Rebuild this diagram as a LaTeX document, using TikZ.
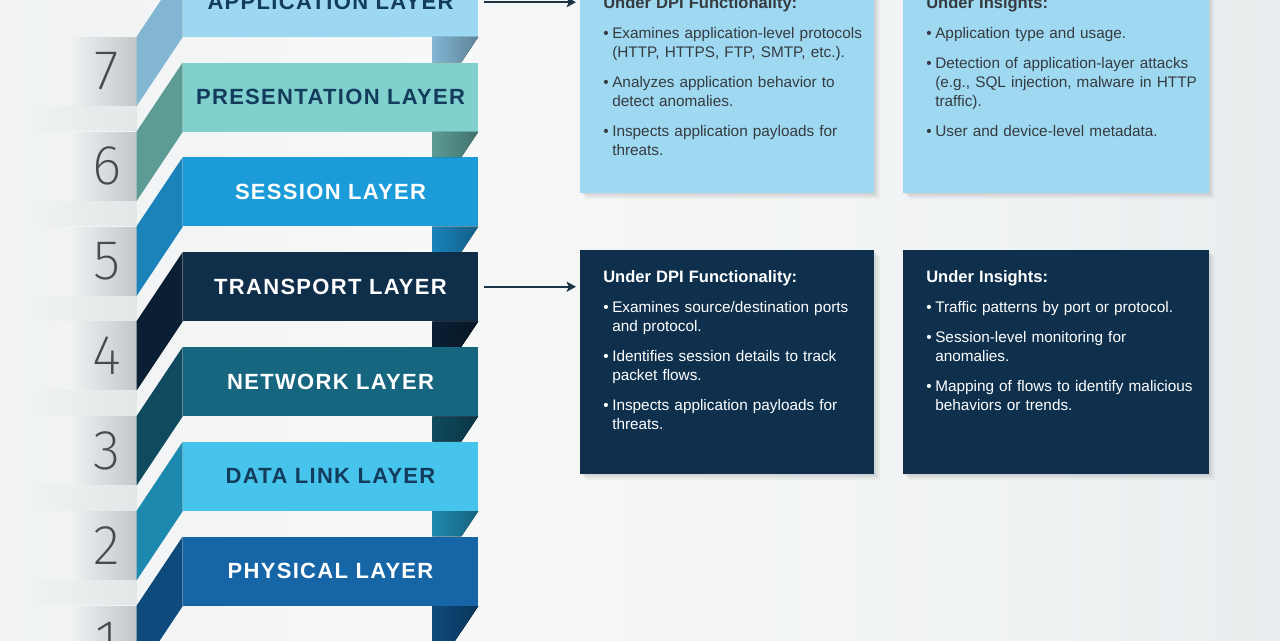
\documentclass[tikz,border=0pt]{standalone}
\usepackage{fontspec}
\setmainfont{Liberation Sans}
\IfFontExistsTF{Fira Sans ExtraLight}{\newfontfamily\numfont{Fira Sans ExtraLight}}{%
  \IfFontExistsTF{Lato Light}{\newfontfamily\numfont{Lato Light}}{%
    \IfFontExistsTF{DejaVu Sans ExtraLight}{\newfontfamily\numfont{DejaVu Sans ExtraLight}}{%
      \newcommand{\numfont}{\sffamily}}}}
\usetikzlibrary{arrows.meta,positioning,calc,shadows,fadings}

% page backdrop
\definecolor{bgA}{HTML}{D3D9DC}
\definecolor{bgB}{HTML}{DDE2E4}
\definecolor{bgC}{HTML}{ECEFF0}
\definecolor{bgD}{HTML}{F7F8F8}
\definecolor{bgE}{HTML}{EFF2F3}
\definecolor{bgF}{HTML}{E2E7E9}
\definecolor{bgG}{HTML}{D1D8DB}
\pgfdeclarehorizontalshading{backdrop}{100bp}{color(0bp)=(bgA); color(8bp)=(bgB);
  color(16bp)=(bgC); color(42bp)=(bgD); color(66bp)=(bgE); color(86bp)=(bgF); color(100bp)=(bgG)}
\tikzfading[name=fadein, left color=transparent!100, right color=transparent!0]

% layer colours
\definecolor{appfront}{HTML}{9CD8F1}   \definecolor{appside}{HTML}{82B6D2}
\definecolor{presfront}{HTML}{80D0CD}  \definecolor{presside}{HTML}{5C9C95}
\definecolor{sessfront}{HTML}{1B9CD8}  \definecolor{sessside}{HTML}{1983BA}
\definecolor{transfront}{HTML}{0F2E4A} \definecolor{transside}{HTML}{0A1F33}
\definecolor{netfront}{HTML}{17667F}   \definecolor{netside}{HTML}{0F4A5E}
\definecolor{dlfront}{HTML}{47C4EC}    \definecolor{dlside}{HTML}{1E89AE}
\definecolor{physfront}{HTML}{1666A7}  \definecolor{physside}{HTML}{0E4A7B}
\definecolor{darklabel}{HTML}{133B5C}
\definecolor{numgray}{HTML}{474B4F}
\definecolor{blockR}{HTML}{C2C7CA}
\definecolor{shelf}{HTML}{E3E7E8}

% info boxes
\definecolor{topbox}{HTML}{9ED8F1}
\definecolor{lowbox}{HTML}{0E304D}
\definecolor{toptext}{HTML}{363B40}
\definecolor{arrowc}{HTML}{1D3446}

\newcommand{\boxhead}[1]{\noindent{\fontsize{12.4}{14.25}\selectfont\bfseries #1}\par}
\newcommand{\dpiitem}[1]{\hangindent=6.75pt\hangafter=1\noindent
  \makebox[6.75pt][l]{\textbullet}#1\par}

\begin{document}
\begin{tikzpicture}[
  x=0.75pt, y=-0.75pt,
  layer/.style={minimum width=221.25pt, minimum height=51.75pt, inner sep=0pt,
                font=\fontsize{16.5}{18}\selectfont\bfseries\addfontfeatures{LetterSpace=6}},
  digit/.style={font=\fontsize{42}{42}\selectfont\numfont, text=numgray, inner sep=0pt},
  infobox/.style={inner sep=0pt, anchor=north west,
                  drop shadow={shadow xshift=1.5pt, shadow yshift=-1.5pt, opacity=.12},
                  drop shadow={shadow xshift=3pt, shadow yshift=-3pt, opacity=.10},
                  drop shadow={shadow xshift=4.5pt, shadow yshift=-4.5pt, opacity=.07}},
  boxtxt/.style={anchor=north west, inner sep=0pt, text width=208pt, align=left,
                 font=\fontsize{11.5}{14.25}\selectfont,
                 execute at begin node={\setlength{\parskip}{8.25pt}\setlength{\parindent}{0pt}}},
  arr/.style={-{Stealth[length=7pt, width=7.5pt, inset=1.5pt]}, line width=1.5pt, draw=arrowc,
              shorten <=4.5pt, shorten >=3pt}
]
\useasboundingbox (0,0) rectangle (1280,640);
\fill[shading=backdrop] (0,0) rectangle (1280,640);

% ---------- OSI stack ----------
\node[layer, fill=appfront, text=darklabel] (app) at (330.5,2.2) {APPLICATION LAYER};
\node[layer, fill=presfront, text=darklabel, below=18.98pt of app] (pres) {PRESENTATION LAYER};
\node[layer, fill=sessfront, text=white, below=18.98pt of pres] (sess) {SESSION LAYER};
\node[layer, fill=transfront, text=white, below=18.98pt of sess] (trans) {TRANSPORT LAYER};
\node[layer, fill=netfront, text=white, below=18.98pt of trans] (net) {NETWORK LAYER};
\node[layer, fill=dlfront, text=darklabel, below=18.98pt of net] (dlink) {DATA LINK LAYER};
\node[layer, fill=physfront, text=white, below=18.98pt of dlink] (phys) {PHYSICAL LAYER};

% side faces, back strips and number blocks
\foreach \n/\c in {app/appside, pres/presside, sess/sessside, trans/transside,
                   net/netside, dlink/dlside, phys/physside} {
  \fill[blockR, path fading=fadein]
    ($(\n.south west)+(-113,0)$) rectangle ($(\n.south west)+(-46,69)$);
  \fill[shelf, path fading=fadein]
    ($(\n.south west)+(-153,69)$) rectangle ($(\n.south west)+(-46,94.3)$);
  \fill[left color=\c, right color=\c!72!black]
    ($(\n.south east)+(-46,0)$) -- (\n.south east) -- ($(\n.south east)+(-16.9,25.3)$)
    -- ($(\n.south east)+(-46,25.3)$) -- cycle;
  \fill[\c] (\n.north west) -- (\n.south west) -- ($(\n.south west)+(-46,69)$)
    -- ($(\n.north west)+(-46,69)$) -- cycle;
}
\fill[left color=physside, right color=physside!72!black]
  ($(phys.south east)+(-46,0)$) -- (phys.south east) -- ($(phys.south east)+(-46,69)$) -- cycle;

\node[digit] (d7) at ($(app.south west)+(-76,34.5)$) {7};
\node[digit] (d6) at ($(pres.south west)+(-76,34.5)$) {6};
\node[digit] (d5) at ($(sess.south west)+(-76,34.5)$) {5};
\node[digit] (d4) at ($(trans.south west)+(-76,34.5)$) {4};
\node[digit] (d3) at ($(net.south west)+(-76,34.5)$) {3};
\node[digit] (d2) at ($(dlink.south west)+(-76,34.5)$) {2};
\node[digit] (d1) at ($(phys.south west)+(-76,34.5)$) {1};

% ---------- detail boxes ----------
\node[infobox, fill=topbox, minimum width=220.5pt, minimum height=162.75pt] (dpiTop) at (580,-24) {};
\node[infobox, fill=topbox, minimum width=229.5pt, minimum height=162.75pt] (insTop) at (903,-24) {};
\node[infobox, fill=lowbox, minimum width=220.5pt, minimum height=168pt] (dpiLow) at (580,250) {};
\node[infobox, fill=lowbox, minimum width=229.5pt, minimum height=168pt] (insLow) at (903,250) {};

\node[boxtxt, text=toptext] (dpiTopTxt) at ($(dpiTop.north west)+(23,20)$) {%
  \boxhead{Under DPI Functionality:}
  \dpiitem{Examines application-level protocols\newline (HTTP, HTTPS, FTP, SMTP, etc.).}
  \dpiitem{Analyzes application behavior to\newline detect anomalies.}
  \dpiitem{Inspects application payloads for\newline threats.}};
\node[boxtxt, text=toptext] (insTopTxt) at ($(insTop.north west)+(23,20)$) {%
  \boxhead{Under Insights:}
  \dpiitem{Application type and usage.}
  \dpiitem{Detection of application-layer attacks\newline (e.g., SQL injection, malware in HTTP\newline traffic).}
  \dpiitem{User and device-level metadata.}};
\node[boxtxt, text=white] (dpiLowTxt) at ($(dpiLow.north west)+(23,20)$) {%
  \boxhead{Under DPI Functionality:}
  \dpiitem{Examines source/destination ports\newline and protocol.}
  \dpiitem{Identifies session details to track\newline packet flows.}
  \dpiitem{Inspects application payloads for\newline threats.}};
\node[boxtxt, text=white] (insLowTxt) at ($(insLow.north west)+(23,20)$) {%
  \boxhead{Under Insights:}
  \dpiitem{Traffic patterns by port or protocol.}
  \dpiitem{Session-level monitoring for\newline anomalies.}
  \dpiitem{Mapping of flows to identify malicious\newline behaviors or trends.}};

\draw[arr] (app.east) -- (app.east -| dpiTop.west);
\draw[arr] (trans.east) -- (trans.east -| dpiLow.west);

\end{tikzpicture}
\end{document}
